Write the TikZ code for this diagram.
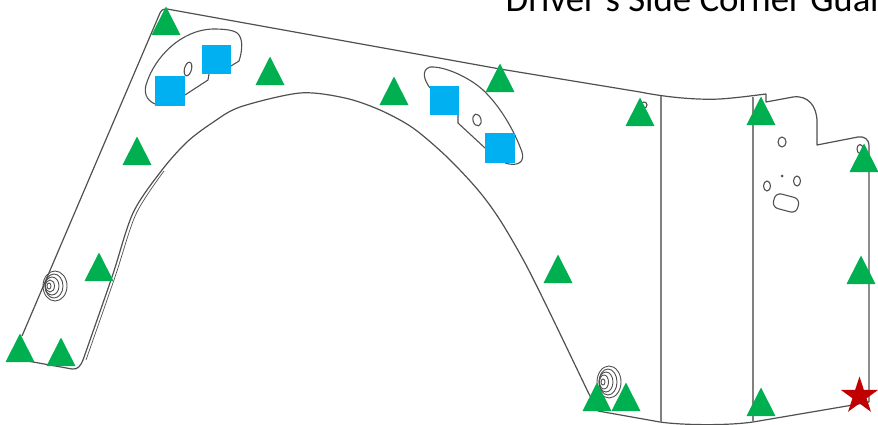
\documentclass[tikz,border=0pt]{standalone}
\usepackage{fontspec}
\setmainfont{Carlito}
\usetikzlibrary{shapes.geometric}

\definecolor{markgreen}{HTML}{00B050}
\definecolor{markblue}{HTML}{00B0F0}
\definecolor{markred}{HTML}{C00000}
\definecolor{partline}{HTML}{505050}

\tikzset{
    outline/.style={draw=partline,line width=1.2pt,line join=round},
    fold/.style={draw=gray,line width=1.2pt},
    detail/.style={draw=partline,line width=1.1pt},
    washer/.style={draw=partline,line width=0.9pt},
    tri/.style={isosceles triangle,isosceles triangle stretches,shape border rotate=90,
        fill=markgreen,inner sep=0pt,minimum width=29pt,minimum height=28.5pt,anchor=apex},
    sq/.style={rectangle,fill=markblue,inner sep=0pt,minimum size=29.5pt},
}

\begin{document}
\begin{tikzpicture}[x=1pt,y=-1pt]
    \useasboundingbox (0,0) rectangle (878,425);
    \clip (0,0) rectangle (878,425);

    % outline of the guard
    \draw[outline] (22,336) -- (160,13) .. controls (162,9) and (164,9) .. (167,9)
        -- (500,69) -- (640,92) .. controls (670,98) and (700,100) .. (720,99)
        .. controls (735,98) and (750,96) .. (766,94) -- (766,102) -- (793,97)
        .. controls (808,95) and (817,106) .. (817,122) -- (817,145) -- (858,137)
        .. controls (864,136) and (869,139) .. (869,146) -- (869,402);
    \draw[outline] (22,360) -- (72,369) .. controls (78,370) and (81,365) .. (83,360);
    \draw[outline] plot[smooth] coordinates {(83,360) (112,277) (133,213) (162,170)
        (187,142) (212,123) (240,107) (300,93) (345,98) (380,110) (413,128) (447,157)
        (478,190) (500,220) (525,263) (550,313) (588,392)};
    \draw[draw=partline,line width=0.7pt] plot[smooth] coordinates {(86,360) (115,277)
        (136,214) (164,171)};
    \draw[outline] (588,392) -- (598,411) -- (660,422)
        .. controls (680,425) and (725,426) .. (753,422) -- (847,406) -- (869,402);

    % folds
    \draw[fold] (661,96) -- (661,422);
    \draw[fold] (753,97) -- (753,422);

    % first slot
    \draw[detail] (155,104) .. controls (146,100) and (143,92) .. (147,82)
        .. controls (155,58) and (180,30) .. (213,29)
        .. controls (225,29) and (236,30) .. (239,35)
        .. controls (244,42) and (241,55) .. (239,61) -- (231,66);
    \draw[detail] (185,95) -- (208,80) -- (209,74);
    \draw[detail] (188,69) ellipse[x radius=3.5,y radius=7,rotate=-15];

    % second slot
    \draw[detail] (430,88) .. controls (424,80) and (421,70) .. (430,67)
        .. controls (445,66) and (470,78) .. (483,90)
        .. controls (500,106) and (514,130) .. (522,152)
        .. controls (525,162) and (518,167) .. (505,163);
    \draw[detail] (458,115) -- (458,123) -- (485,148);
    \draw[detail] (477,120) ellipse[x radius=4,y radius=6,rotate=15];

    % holes on the plate
    \draw[detail] (644,105) circle[radius=3];
    \draw[detail] (782,142) ellipse[x radius=4,y radius=5];
    \draw[detail] (767,186) ellipse[x radius=3.5,y radius=5];
    \draw[detail] (797,181) ellipse[x radius=3.5,y radius=5];
    \fill[partline] (782,176) circle[radius=1.5];
    \draw[detail,rounded corners=6pt,rotate around={-15:(786,203)}] (773.5,195.5) rectangle (798.5,210.5);
    \draw[detail] (860,149) ellipse[x radius=3,y radius=4.5];

    % washers
    \draw[washer] (55,286) ellipse[x radius=12,y radius=15];
    \draw[washer] (54,286) ellipse[x radius=9,y radius=12];
    \draw[washer] (52,286) ellipse[x radius=7,y radius=9];
    \draw[washer] (50,286) ellipse[x radius=4.5,y radius=6];
    \draw[washer] (49,286) ellipse[x radius=2,y radius=3];
    \draw[washer] (609,382) ellipse[x radius=12,y radius=16];
    \draw[washer] (608,382) ellipse[x radius=9,y radius=13];
    \draw[washer] (606,382) ellipse[x radius=7,y radius=10];
    \draw[washer] (604,382) ellipse[x radius=4.5,y radius=7];
    \draw[washer] (603,382) ellipse[x radius=2,y radius=3];

    \node[anchor=base west,inner sep=0pt,font=\fontsize{36.8}{38}\selectfont] (title) at (505.5,12) {Driver's Side Corner Guard};

    \node[tri] (t1) at (166,6) {};
    \node[tri] (t2) at (270,56) {};
    \node[tri] (t3) at (137,136) {};
    \node[tri] (t4) at (394,76) {};
    \node[tri] (t5) at (500,63) {};
    \node[tri] (t6) at (640,97) {};
    \node[tri] (t7) at (761,96) {};
    \node[tri] (t8) at (864,143) {};
    \node[tri] (t9) at (99,252) {};
    \node[tri] (t10) at (558,254) {};
    \node[tri] (t11) at (861,255) {};
    \node[tri] (t12) at (20,333) {};
    \node[tri] (t13) at (61,337) {};
    \node[tri] (t14) at (597,382) {};
    \node[tri] (t15) at (626,382) {};
    \node[tri] (t16) at (761,387) {};

    \node[sq] (s1) at (216.5,59.5) {};
    \node[sq] (s2) at (170,91) {};
    \node[sq] (s3) at (444.5,100.5) {};
    \node[sq] (s4) at (500,148) {};

    \node[star,star points=5,star point ratio=2.618,fill=markred,inner sep=0pt,minimum size=39pt] (st) at (859.5,396) {};
\end{tikzpicture}
\end{document}
